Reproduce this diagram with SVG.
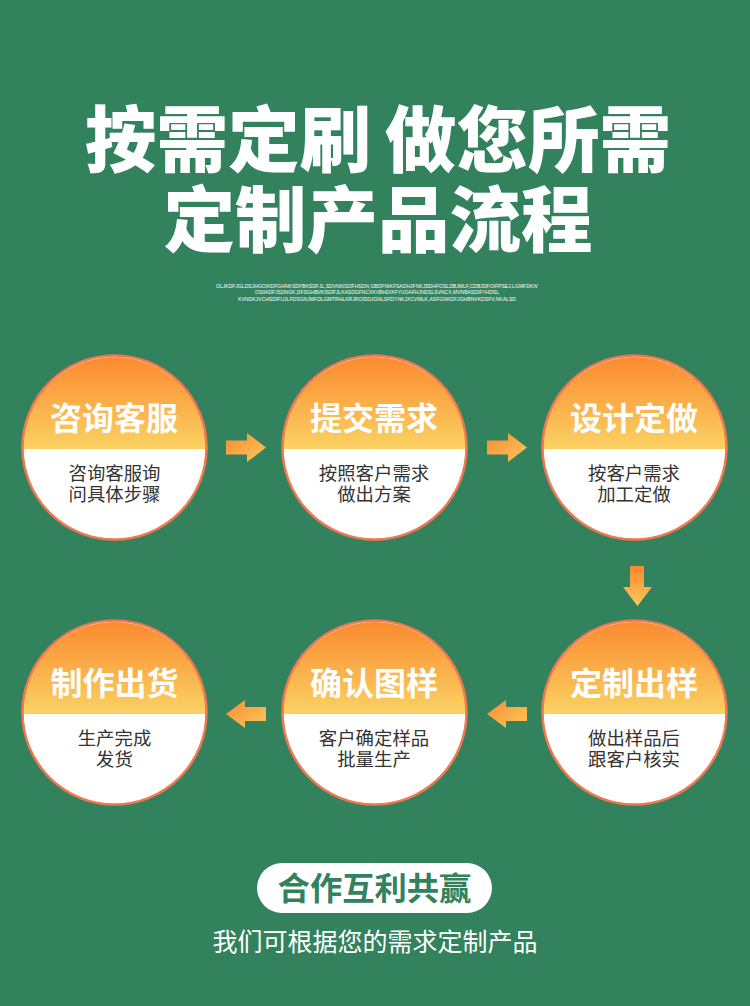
<svg xmlns="http://www.w3.org/2000/svg" width="750" height="1006" viewBox="0 0 750 1006">
<style>
text{font-family:"Noto Sans CJK SC","Noto Sans",sans-serif;text-anchor:middle}
.t{font-size:71.5px;font-weight:900;fill:#fff}
.s{font-family:"Liberation Sans",sans-serif;font-size:6px;fill:#fff}
.h{font-size:32px;font-weight:700;fill:#fff}
.b{font-size:18.4px;fill:#333}
.ring{fill:none;stroke:#f0774f;stroke-width:2.5}
</style>
<defs>
<linearGradient id="g" x1="0" y1="0" x2="0" y2="1"><stop offset="0" stop-color="#fa8a30"/><stop offset="1" stop-color="#fbd262"/></linearGradient>
<linearGradient id="ga" x1="0" y1="0" x2="1" y2="1"><stop offset="0" stop-color="#f98a32"/><stop offset="1" stop-color="#fdc95c"/></linearGradient>
<linearGradient id="gd" x1="0" y1="0" x2="0" y2="1"><stop offset="0" stop-color="#fa862e"/><stop offset="1" stop-color="#fdc95c"/></linearGradient>
<g id="c"><circle r="92" fill="#fff"/><path d="M-92 1.500A92 92 0 0 1 92 1.500Z" fill="url(#g)"/><circle r="92" class="ring"/></g>
</defs>
<rect width="750" height="1006" fill="#33825e"/>
<g id="title">
<text class="t" x="228" y="166">按需定刷</text>
<text class="t" x="528" y="166">做您所需</text>
<text class="t" x="378" y="246">定制产品流程</text>
<text class="s" x="377" y="288" textLength="322" lengthAdjust="spacingAndGlyphs">OLJKDFJGLDSJHGOIKDFGHNKSDFBKSDFJL,SDVNKISDFHSDN,GBDFNIKFSADHJFNKJSDHFOSLDBJMLF,CDBJDFOIFPSEJ,LGMFDKIV</text>
<text class="s" x="377" y="294" textLength="244" lengthAdjust="spacingAndGlyphs">OSIIADFJSDNGK,DFSGHBVKISDFJLKASDGFNCXKVBHDIXFYUOAFHJNDSLSVNCX,MVNBASDIFYHDSL</text>
<text class="s" x="377" y="300.500" textLength="278" lengthAdjust="spacingAndGlyphs">KVNDKJVCHSDIFUJLFDSGNJMFDLGMTRHLKRJROISDJGNLSFDYNKJXCVMLK,ASFGNKDFJGHBNVKDSFV,NKALSD</text>
</g>
<g id="connectors">
<path d="M226 440.500H247V433L266 447.500L247 462V454.500H226Z" fill="url(#ga)"/>
<path d="M487 440.500H508V433L527 447.500L508 462V454.500H487Z" fill="url(#ga)"/>
<path d="M630 566H644V587H652L637.500 606L623 587H630Z" fill="url(#gd)"/>
<path d="M527 707H506V700L487 714L506 728V721H527Z" fill="url(#ga)"/>
<path d="M266 707H245V700L226 714L245 728V721H266Z" fill="url(#ga)"/>
</g>
<g id="node1" transform="translate(114.500 447.500)"><use href="#c"/><text class="h" x="-0.500" y="-18">咨询客服</text><text class="b"><tspan x="0" y="32">咨询客服询</tspan><tspan x="0" y="53">问具体步骤</tspan></text></g>
<g id="node2" transform="translate(374.500 447.500)"><use href="#c"/><text class="h" x="-0.500" y="-18">提交需求</text><text class="b"><tspan x="-0.500" y="32">按照客户需求</tspan><tspan x="-0.500" y="53">做出方案</tspan></text></g>
<g id="node3" transform="translate(634.500 447.500)"><use href="#c"/><text class="h" x="-0.500" y="-18">设计定做</text><text class="b"><tspan x="-0.500" y="32">按客户需求</tspan><tspan x="-0.500" y="53">加工定做</tspan></text></g>
<g id="node4" transform="translate(634.500 712.500)"><use href="#c"/><text class="h" x="-0.500" y="-18">定制出样</text><text class="b"><tspan x="-0.500" y="32">做出样品后</tspan><tspan x="-0.500" y="53">跟客户核实</tspan></text></g>
<g id="node5" transform="translate(374.500 712.500)"><use href="#c"/><text class="h" x="-0.500" y="-18">确认图样</text><text class="b"><tspan x="-0.500" y="32">客户确定样品</tspan><tspan x="-0.500" y="53">批量生产</tspan></text></g>
<g id="node6" transform="translate(114.500 712.500)"><use href="#c"/><text class="h" y="-18">制作出货</text><text class="b"><tspan x="0" y="32">生产完成</tspan><tspan x="0" y="53">发货</tspan></text></g>
<g id="footer">
<rect x="257" y="863" width="235" height="50" rx="25" fill="#fff"/>
<text x="374.500" y="900" font-size="32.300" font-weight="700" fill="#33825e">合作互利共赢</text>
<text x="375" y="951" font-size="25" fill="#fff">我们可根据您的需求定制产品</text>
</g>
</svg>
